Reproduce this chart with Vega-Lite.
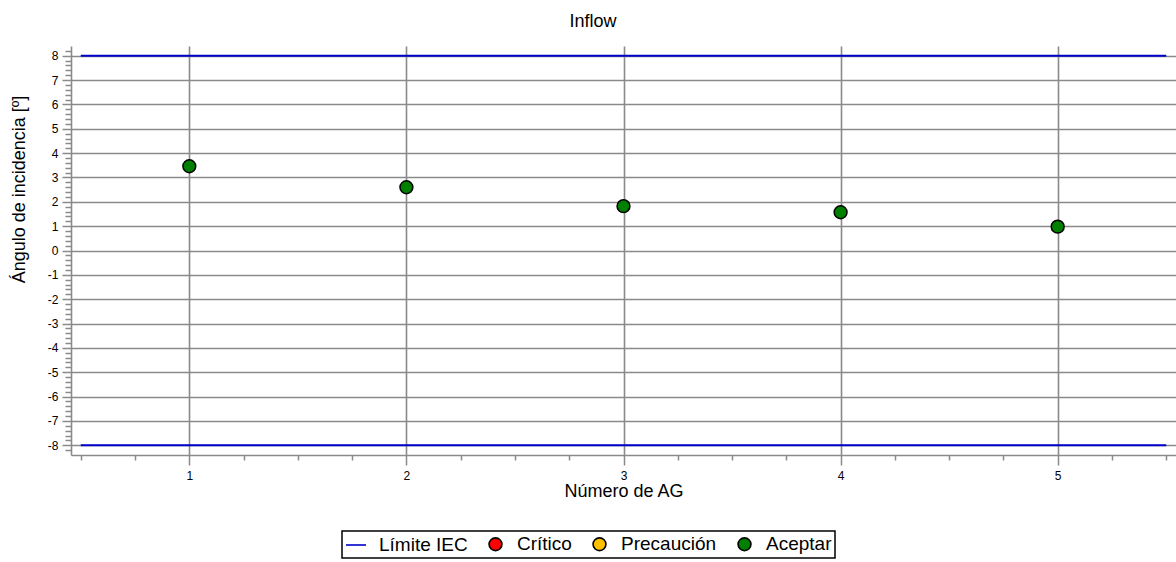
{
  "$schema": "https://vega.github.io/schema/vega-lite/v6.json",
  "width": 1105,
  "height": 409,
  "autosize": {"type": "none"},
  "padding": {"left": 71, "top": 46, "right": 0, "bottom": 107},
  "background": "white",
  "title": {
    "text": "Inflow",
    "font": "Liberation Sans",
    "fontSize": 18,
    "fontWeight": "normal",
    "color": "black",
    "anchor": "middle",
    "frame": "bounds",
    "offset": 15
  },
  "config": {
    "view": {"stroke": null},
    "legend": {"strokeWidth": 1.5},
    "axis": {
      "labelFont": "Liberation Sans",
      "titleFont": "Liberation Sans",
      "labelColor": "black",
      "titleColor": "black",
      "titleFontWeight": "normal",
      "gridColor": "#8a8a8a",
      "gridWidth": 1.6,
      "gridOpacity": 1,
      "tickColor": "#8a8a8a",
      "tickWidth": 1.5,
      "domainColor": "#8a8a8a",
      "domainWidth": 1.6
    }
  },
  "resolve": {"axis": {"x": "independent", "y": "independent"}},
  "layer": [
    {
      "data": {"values": [
        {"lim": 8, "xs": 0.5, "xe": 5.5},
        {"lim": -8, "xs": 0.5, "xe": 5.5}
      ]},
      "mark": {"type": "rule", "color": "#0000cc", "strokeWidth": 2},
      "encoding": {
        "x": {
          "field": "xs", "type": "quantitative",
          "scale": {"domain": [0.455, 5.545], "nice": false, "zero": false},
          "axis": {
            "orient": "bottom",
            "values": [1, 2, 3, 4, 5],
            "grid": true,
            "tickSize": 10,
            "labelFontSize": 12,
            "labelPadding": 5,
            "title": "Número de AG",
            "titleFontSize": 18,
            "titlePadding": 1
          }
        },
        "x2": {"field": "xe"},
        "y": {
          "field": "lim", "type": "quantitative",
          "scale": {"domain": [-8.4, 8.4], "nice": false, "zero": false},
          "axis": {
            "orient": "left",
            "values": [-8, -7, -6, -5, -4, -3, -2, -1, 0, 1, 2, 3, 4, 5, 6, 7, 8],
            "grid": true,
            "tickSize": 9,
            "labelFontSize": 12,
            "labelPadding": 4,
            "labelExpr": "datum.value + ''",
            "title": "Ángulo de incidencia [º]",
            "titleFontSize": 18,
            "titleAngle": -90,
            "titleAlign": "center",
            "titleBaseline": "alphabetic",
            "titleX": -47,
            "titleY": 143
          }
        }
      }
    },
    {
      "data": {"values": [
        {"ag": 1, "angulo": 3.46, "estado": "Aceptar"},
        {"ag": 2, "angulo": 2.60, "estado": "Aceptar"},
        {"ag": 3, "angulo": 1.82, "estado": "Aceptar"},
        {"ag": 4, "angulo": 1.57, "estado": "Aceptar"},
        {"ag": 5, "angulo": 0.98, "estado": "Aceptar"}
      ]},
      "mark": {"type": "point", "filled": true, "strokeWidth": 1.5, "opacity": 1},
      "encoding": {
        "x": {
          "field": "ag", "type": "quantitative",
          "scale": {"domain": [0.455, 5.545], "nice": false, "zero": false},
          "axis": {
            "orient": "bottom",
            "values": [0.5, 0.75, 1.25, 1.5, 1.75, 2.25, 2.5, 2.75, 3.25, 3.5, 3.75, 4.25, 4.5, 4.75, 5.25, 5.5],
            "grid": false,
            "domain": false,
            "labels": false,
            "tickSize": 5,
            "title": null
          }
        },
        "y": {
          "field": "angulo", "type": "quantitative",
          "scale": {"domain": [-8.4, 8.4], "nice": false, "zero": false},
          "axis": {
            "orient": "left",
            "values": [-8.2, -7.8, -7.6, -7.4, -7.2, -6.8, -6.6, -6.4, -6.2, -5.8, -5.6, -5.4, -5.2, -4.8, -4.6, -4.4, -4.2, -3.8, -3.6, -3.4, -3.2, -2.8, -2.6, -2.4, -2.2, -1.8, -1.6, -1.4, -1.2, -0.8, -0.6, -0.4, -0.2, 0.2, 0.4, 0.6, 0.8, 1.2, 1.4, 1.6, 1.8, 2.2, 2.4, 2.6, 2.8, 3.2, 3.4, 3.6, 3.8, 4.2, 4.4, 4.6, 4.8, 5.2, 5.4, 5.6, 5.8, 6.2, 6.4, 6.6, 6.8, 7.2, 7.4, 7.6, 7.8, 8.2],
            "grid": false,
            "domain": false,
            "labels": false,
            "tickSize": 6,
            "title": null
          }
        },
        "color": {
          "field": "estado", "type": "nominal",
          "scale": {"domain": ["Límite IEC", "Crítico", "Precaución", "Aceptar"], "range": ["#0000cc", "#ff0000", "#ffc000", "#008000"]},
          "legend": {
            "title": null,
            "orient": "none",
            "legendX": 271,
            "legendY": 485,
            "direction": "horizontal",
            "strokeColor": "black",
            "padding": 3,
            "labelFont": "Liberation Sans",
            "labelFontSize": 19,
            "labelColor": "black",
            "labelOffset": 12,
            "columnPadding": 17,
            "symbolStrokeWidth": 1.6,
            "symbolOpacity": 1
          }
        },
        "stroke": {
          "field": "estado", "type": "nominal",
          "scale": {"domain": ["Límite IEC", "Crítico", "Precaución", "Aceptar"], "range": ["#0000cc", "black", "black", "black"]},
          "legend": {"title": null, "orient": "none", "legendX": 271, "legendY": 485, "direction": "horizontal"}
        },
        "size": {
          "field": "estado", "type": "nominal",
          "scale": {"type": "ordinal", "domain": ["Límite IEC", "Crítico", "Precaución", "Aceptar"], "range": [400, 165, 165, 165]},
          "legend": {"title": null, "orient": "none", "legendX": 271, "legendY": 485, "direction": "horizontal"}
        },
        "shape": {
          "field": "estado", "type": "nominal",
          "scale": {"domain": ["Límite IEC", "Crítico", "Precaución", "Aceptar"], "range": ["stroke", "circle", "circle", "circle"]},
          "legend": {"title": null, "orient": "none", "legendX": 271, "legendY": 485, "direction": "horizontal"}
        }
      }
    }
  ]
}
